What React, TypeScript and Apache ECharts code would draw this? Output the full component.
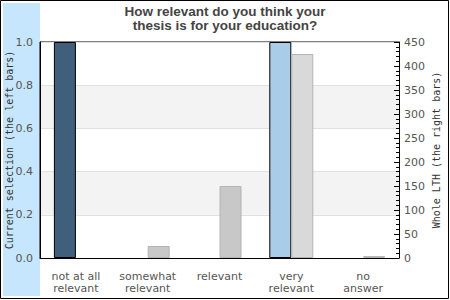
import React, { useEffect, useRef } from "react";
import * as echarts from "echarts";

const categories = ["not at all\nrelevant", "somewhat\nrelevant", "relevant", "very\nrelevant", "no\nanswer"];
const currentSelection = [1, 0, 0, 1, 0];
const wholeLTH = [0, 25, 150, 425, 4];
const currentColors = ["#3f5f7b", "#3f5f7b", "#3f5f7b", "#a9cde9", "#3f5f7b"];
const wholeColors = ["#c8c8c8", "#c8c8c8", "#c8c8c8", "#d9d9d9", "#c8c8c8"];

export default function App() {
  const ref = useRef<HTMLDivElement>(null);
  useEffect(() => {
    const chart = echarts.init(ref.current!, null, { renderer: "svg" });
    const labelStyle = { color: "#555", fontSize: 11, fontFamily: "DejaVu Sans" };
    chart.setOption({
      animation: false,
      backgroundColor: "#fff",
      title: {
        text: "How relevant do you think your\nthesis is for your education?",
        left: "center",
        top: 4,
        padding: 0,
        textStyle: { fontSize: 13.5, fontWeight: "bold", color: "#444", fontFamily: "Liberation Sans", lineHeight: 14 },
      },
      graphic: [
        { type: "rect", shape: { x: 3, y: 3, width: 37, height: 293 }, style: { fill: "#c6e6fd" }, z: -10 },
        { type: "rect", shape: { x: 0.5, y: 0.5, width: 448, height: 298 }, style: { fill: "none", stroke: "#000", lineWidth: 1 }, z: 100 },
      ],
      grid: {
        left: 40, right: 51, top: 42, bottom: 42,
        outerBoundsMode: "none", containLabel: false,
        show: true, borderColor: "#000", borderWidth: 1, backgroundColor: "transparent",
      },
      xAxis: {
        type: "category",
        data: categories,
        axisLine: { lineStyle: { color: "#000", width: 1 } },
        axisTick: { show: false },
        axisLabel: { ...labelStyle, margin: 12, lineHeight: 12, verticalAlign: "top", interval: 0 },
      },
      yAxis: [
        {
          type: "value",
          min: 0,
          max: 1,
          interval: 0.2,
          name: "Current selection (the left bars)",
          nameLocation: "middle",
          nameRotate: 90,
          nameGap: 26,
          nameMoveOverlap: false,
          nameTextStyle: { fontFamily: "DejaVu Sans Mono", fontSize: 10, color: "#333" },
          axisLine: { show: true, lineStyle: { color: "#000" } },
          axisTick: { show: false },
          axisLabel: { ...labelStyle, margin: 7, formatter: (v: number) => v.toFixed(1) },
          splitLine: { show: true, lineStyle: { color: "#e0e0e0" } },
          splitArea: { show: true, areaStyle: { color: ["#ffffff", "#f3f3f3"] } },
        },
        {
          type: "value",
          min: 0,
          max: 450,
          interval: 50,
          position: "right",
          name: "Whole LTH (the right bars)",
          nameLocation: "middle",
          nameRotate: 90,
          nameGap: 32,
          nameMoveOverlap: false,
          nameTextStyle: { fontFamily: "DejaVu Sans Mono", fontSize: 10, color: "#333" },
          axisLine: { show: true, lineStyle: { color: "#000" } },
          axisTick: { show: true, inside: true, length: 5, lineStyle: { color: "#000" } },
          minorTick: { show: true, splitNumber: 5, length: 3, lineStyle: { color: "#000" } },
          axisLabel: { ...labelStyle, margin: 5 },
          splitLine: { show: false },
        },
      ],
      series: [
        {
          type: "bar",
          yAxisIndex: 0,
          barWidth: 22,
          barGap: "0%",
          data: currentSelection.map((v, i) => ({
            value: v,
            itemStyle: { color: currentColors[i], borderWidth: v > 0 ? 1 : 0 },
          })),
          itemStyle: { borderColor: "#000" },
        },
        {
          type: "bar",
          yAxisIndex: 1,
          barWidth: 22,
          barGap: "0%",
          data: wholeLTH.map((v, i) => ({
            value: v,
            itemStyle: { color: wholeColors[i], borderWidth: v > 0 ? 1 : 0 },
          })),
          itemStyle: { borderColor: "#b4b4b4" },
        },
      ],
    });
    return () => chart.dispose();
  }, []);
  return <div ref={ref} style={{ position: "fixed", left: 0, top: 0, width: 450, height: 300 }} />;
}
